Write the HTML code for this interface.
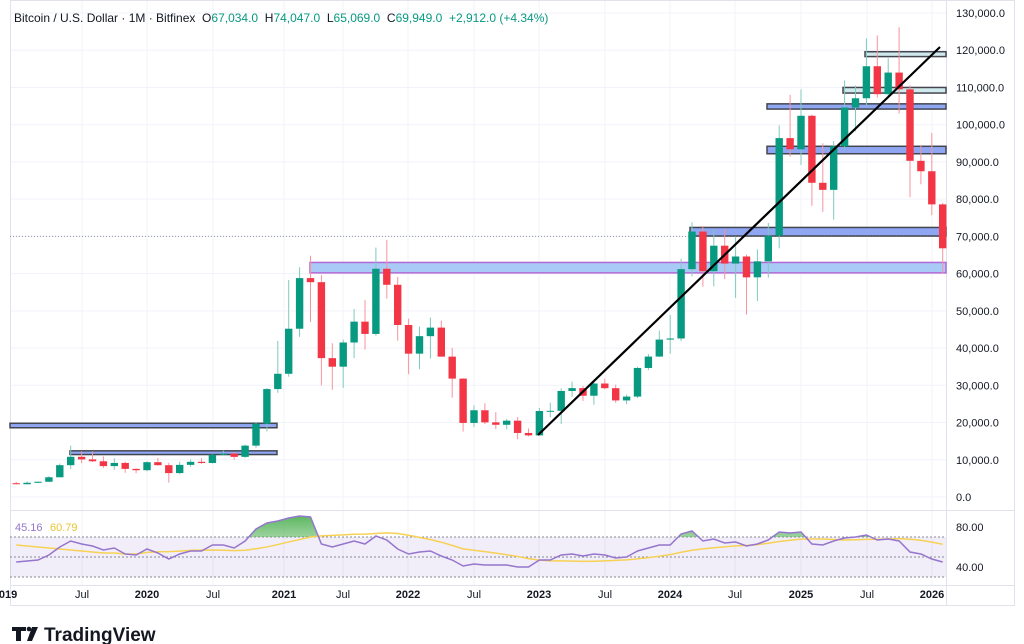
<!DOCTYPE html>
<html><head><meta charset="utf-8"><style>
body{margin:0;background:#fff;width:1024px;height:644px;overflow:hidden;font-family:"Liberation Sans",sans-serif}
svg{position:absolute;left:0;top:0}
</style></head><body>
<svg id="s" width="1024" height="644" xmlns="http://www.w3.org/2000/svg" font-family="Liberation Sans, sans-serif">
<rect x="0" y="0" width="1024" height="644" fill="#fff"/>
<g id="grid" stroke="#f0f3fa" stroke-width="1"></g>
<rect x="10.5" y="0.5" width="1004" height="605" fill="none" stroke="#e0e3eb"/>
<line x1="10" y1="510.5" x2="1014" y2="510.5" stroke="#e0e3eb"/>
<line x1="10" y1="585.5" x2="1014" y2="585.5" stroke="#e0e3eb"/>
<line x1="946.5" y1="0" x2="946.5" y2="605" stroke="#e0e3eb"/>
<line x1="10" y1="236.4" x2="946" y2="236.4" stroke="#9598a1" stroke-dasharray="1,2"/>
<g id="zones"></g>
<g id="candles"></g>
<line x1="538" y1="435" x2="940" y2="47" stroke="#000" stroke-width="2.2"/>
<g id="rsi"></g>
<g font-size="11" fill="#131722" text-anchor="start" id="ylab"></g>
<text x="14" y="22" font-size="12" fill="#131722">Bitcoin / U.S. Dollar · 1M · Bitfinex&#160;&#160;O<tspan fill="#089981">67,034.0</tspan>&#160;&#160;H<tspan fill="#089981">74,047.0</tspan>&#160;&#160;L<tspan fill="#089981">65,069.0</tspan>&#160;&#160;C<tspan fill="#089981">69,949.0</tspan>&#160;&#160;<tspan fill="#089981">+2,912.0 (+4.34%)</tspan></text>
<text x="15" y="531" font-size="11" fill="#9575cd">45.16</text>
<text x="50" y="531" font-size="11" fill="#e8c534">60.79</text>
<text x="956" y="531" font-size="11" fill="#131722">80.00</text>
<text x="956" y="571" font-size="11" fill="#131722">40.00</text>
<g font-size="11" fill="#131722" text-anchor="middle" font-weight="bold">
<text x="8" y="598">019</text>
<text x="147" y="598">2020</text><text x="284" y="598">2021</text><text x="408" y="598">2022</text>
<text x="539" y="598">2023</text><text x="670" y="598">2024</text><text x="801" y="598">2025</text><text x="932" y="598">2026</text>
</g>
<g font-size="11" fill="#131722" text-anchor="middle">
<text x="82" y="598">Jul</text><text x="213" y="598">Jul</text><text x="343" y="598">Jul</text>
<text x="474" y="598">Jul</text><text x="605" y="598">Jul</text><text x="735" y="598">Jul</text><text x="867" y="598">Jul</text>
</g>
<path d="M12 627h14v4h-5v10h-5v-10h-4z" fill="#131722"/>
<circle cx="29" cy="629" r="2.3" fill="#131722"/>
<path d="M32 627h6l-6 14h-5z" fill="#131722"/>
<text x="44" y="641" font-size="19" font-weight="bold" fill="#131722">TradingView</text>
</svg>
<script>
var NS="http://www.w3.org/2000/svg";
function el(p,t,a){var e=document.createElementNS(NS,t);for(var k in a)e.setAttribute(k,a[k]);document.getElementById(p).appendChild(e);return e;}
function Y(p){return 497-p*0.003723;}
function X(i){return 16.2+i*10.9;}
for(var v=0;v<=130000;v+=10000){el("grid","line",{x1:10,x2:946,y1:Y(v),y2:Y(v)});
 var t=el("ylab","text",{x:956,y:Y(v)+4});t.textContent=v.toLocaleString("en-US")+".0";}
[82,147,213,284,343,408,474,539,605,670,735,801,867,932].forEach(function(x){el("grid","line",{x1:x,x2:x,y1:0,y2:585});});
function zone(x1,x2,p1,p2,fill,stroke){el("zones","rect",{x:x1,y:Y(p2),width:x2-x1,height:Y(p1)-Y(p2),fill:fill,stroke:stroke,"stroke-width":1.5});}
zone(10,277,18600,19800,"#8fa6f3","#434651");
zone(70,277,11400,12400,"#8fa6f3","#434651");
zone(310,946,60200,63000,"#a9c9f7","#b36ad6");
zone(690,946,70100,72400,"#8fa6f3","#434651");
zone(767,946,92200,94200,"#8fa6f3","#434651");
zone(767,946,104200,105600,"#8fa6f3","#434651");
zone(843,946,108500,110000,"#cfe9ec","#434651");
zone(865,946,118300,119600,"#cfe9ec","#434651");
var d=[[3700,4100,3400,3430],[3430,4200,3400,3820],[3820,4150,3700,4100],[4100,5600,4050,5300],[5300,9000,5300,8550],[8550,13800,7500,10800],[10800,12300,9100,10100],[10100,12300,9400,9600],[9600,10900,7800,8300],[8300,10400,7300,9150],[9150,9500,6500,7550],[7550,7700,6400,7200],
[7200,9600,6900,9350],[9350,10500,8400,8550],[8550,9200,3850,6420],[6420,9500,6150,8630],[8630,10100,8100,9450],[9450,10400,8900,9140],[9140,11450,9000,11350],[11350,12500,11100,11650],[11650,12100,10000,10780],[10780,14100,10500,13800],[13800,19900,13200,19700],[19700,29300,17600,28990],
[28990,41900,28000,33100],[33100,58300,32300,45200],[45200,61700,43000,58800],[58800,64800,47000,57700],[57700,59600,30000,37300],[37300,41300,28800,35000],[35000,42300,29300,41500],[41500,50500,37300,47100],[47100,52900,39600,43800],[43800,67000,43300,61300],[61300,69000,53300,57000],[57000,59100,42000,46200],
[46200,47900,33000,38500],[38500,45800,34300,43200],[43200,48200,37200,45500],[45500,47400,37700,37700],[37700,40000,26700,31800],[31800,31900,17600,19900],[19900,24600,18800,23300],[23300,25200,19600,20050],[20050,22800,18200,19400],[19400,21000,18200,20500],[20500,21500,15500,17200],[17200,18400,16300,16550],
[16550,23900,16500,23100],[23100,25300,21400,23150],[23150,29200,19600,28480],[28480,31000,26900,29250],[29250,29800,25800,27200],[27200,31400,24800,30480],[30480,31800,28900,29230],[29230,30200,25300,25940],[25940,27500,24900,26970],[26970,35000,26600,34660],[34660,38400,34100,37720],[37720,44700,37600,42280],
[42280,48900,38500,42580],[42580,64000,41900,61200],[61200,73800,59300,71300],[71300,72800,56500,60650],[60650,71900,56600,67500],[67500,71900,58500,62700],[62700,70000,53500,64600],[64600,65100,49000,59000],[59000,66500,52600,63300],[63300,73600,58900,70200],[70200,99800,66800,96400],[96400,108000,91400,93400],
[93400,109500,89200,102400],[102400,102700,78200,84400],[84400,95000,76600,82500],[82500,95600,74500,94200],[94200,111900,93400,104600],[104600,110500,98200,107100],[107100,123200,105100,115700],[115700,124000,107300,108200],[108200,117900,107300,114000],[114000,126200,103000,109500],[109500,110600,80500,90300],[90300,94500,84000,87500],
[87500,97800,75700,78600],[78600,79000,60000,66800]];
d.forEach(function(c,i){var x=X(i),up=c[3]>=c[0],col=up?"#089981":"#f23645";
 el("candles","line",{x1:x,x2:x,y1:Y(c[1]),y2:Y(c[2]),stroke:up?"#7fcabb":"#f7939d","stroke-width":1});
 var t=Y(Math.max(c[0],c[3])),b=Y(Math.min(c[0],c[3]));
 el("candles","rect",{x:x-3.7,y:t,width:7.4,height:Math.max(1,b-t),fill:col});});
var r=[45,46,47,52,60,66,63,61,57,59,53,52,58,54,48,53,56,56,62,62,59,66,78,84,86,89,91,90,63,60,63,66,63,71,67,58,53,55,56,51,47,41,43,42,42,42,40,40,47,47,52,53,51,53,52,49,50,56,59,62,62,73,76,66,68,64,65,61,63,67,75,74,75,63,62,66,69,70,72,67,68,66,55,53,48,45];
function RY(v){return 607-v;}
el("rsi","rect",{x:10,y:RY(70),width:936,height:40,fill:"#7e57c2","fill-opacity":0.1});
[70,50,30].forEach(function(v){el("rsi","line",{x1:10,x2:946,y1:RY(v),y2:RY(v),stroke:"#868993","stroke-dasharray":"2,2"});});
var defs=el("rsi","defs",{});
var g=document.createElementNS(NS,"linearGradient");g.setAttribute("id","gg");g.setAttribute("x1","0");g.setAttribute("y1","0");g.setAttribute("x2","0");g.setAttribute("y2","1");
g.innerHTML='<stop offset="0" stop-color="#4caf50" stop-opacity="0.9"/><stop offset="1" stop-color="#4caf50" stop-opacity="0.05"/>';defs.appendChild(g);
var cp=document.createElementNS(NS,"clipPath");cp.setAttribute("id","cp");cp.innerHTML='<rect x="0" y="0" width="1024" height="'+RY(70)+'"/>';defs.appendChild(cp);
var pts=r.map(function(v,i){return X(i)+","+RY(v);});
el("rsi","polygon",{points:X(0)+","+RY(70)+" "+pts.join(" ")+" "+X(r.length-1)+","+RY(70),fill:"url(#gg)","clip-path":"url(#cp)"});
var m=[],init=[62,61,60,59,58,57,56,55,54,54,53,53];
for(var i=0;i<r.length;i++){if(i<12){m.push(init[i]);continue;}var s=0;for(var k=i-13;k<=i;k++)s+=(k<0?r[0]:r[k]);m.push(s/14);}
el("rsi","polyline",{points:m.map(function(v,i){return X(i)+","+RY(v);}).join(" "),fill:"none",stroke:"#f7d154","stroke-width":1.5});
el("rsi","polyline",{points:pts.join(" "),fill:"none",stroke:"#9575cd","stroke-width":1.5});
</script>
</body></html>
